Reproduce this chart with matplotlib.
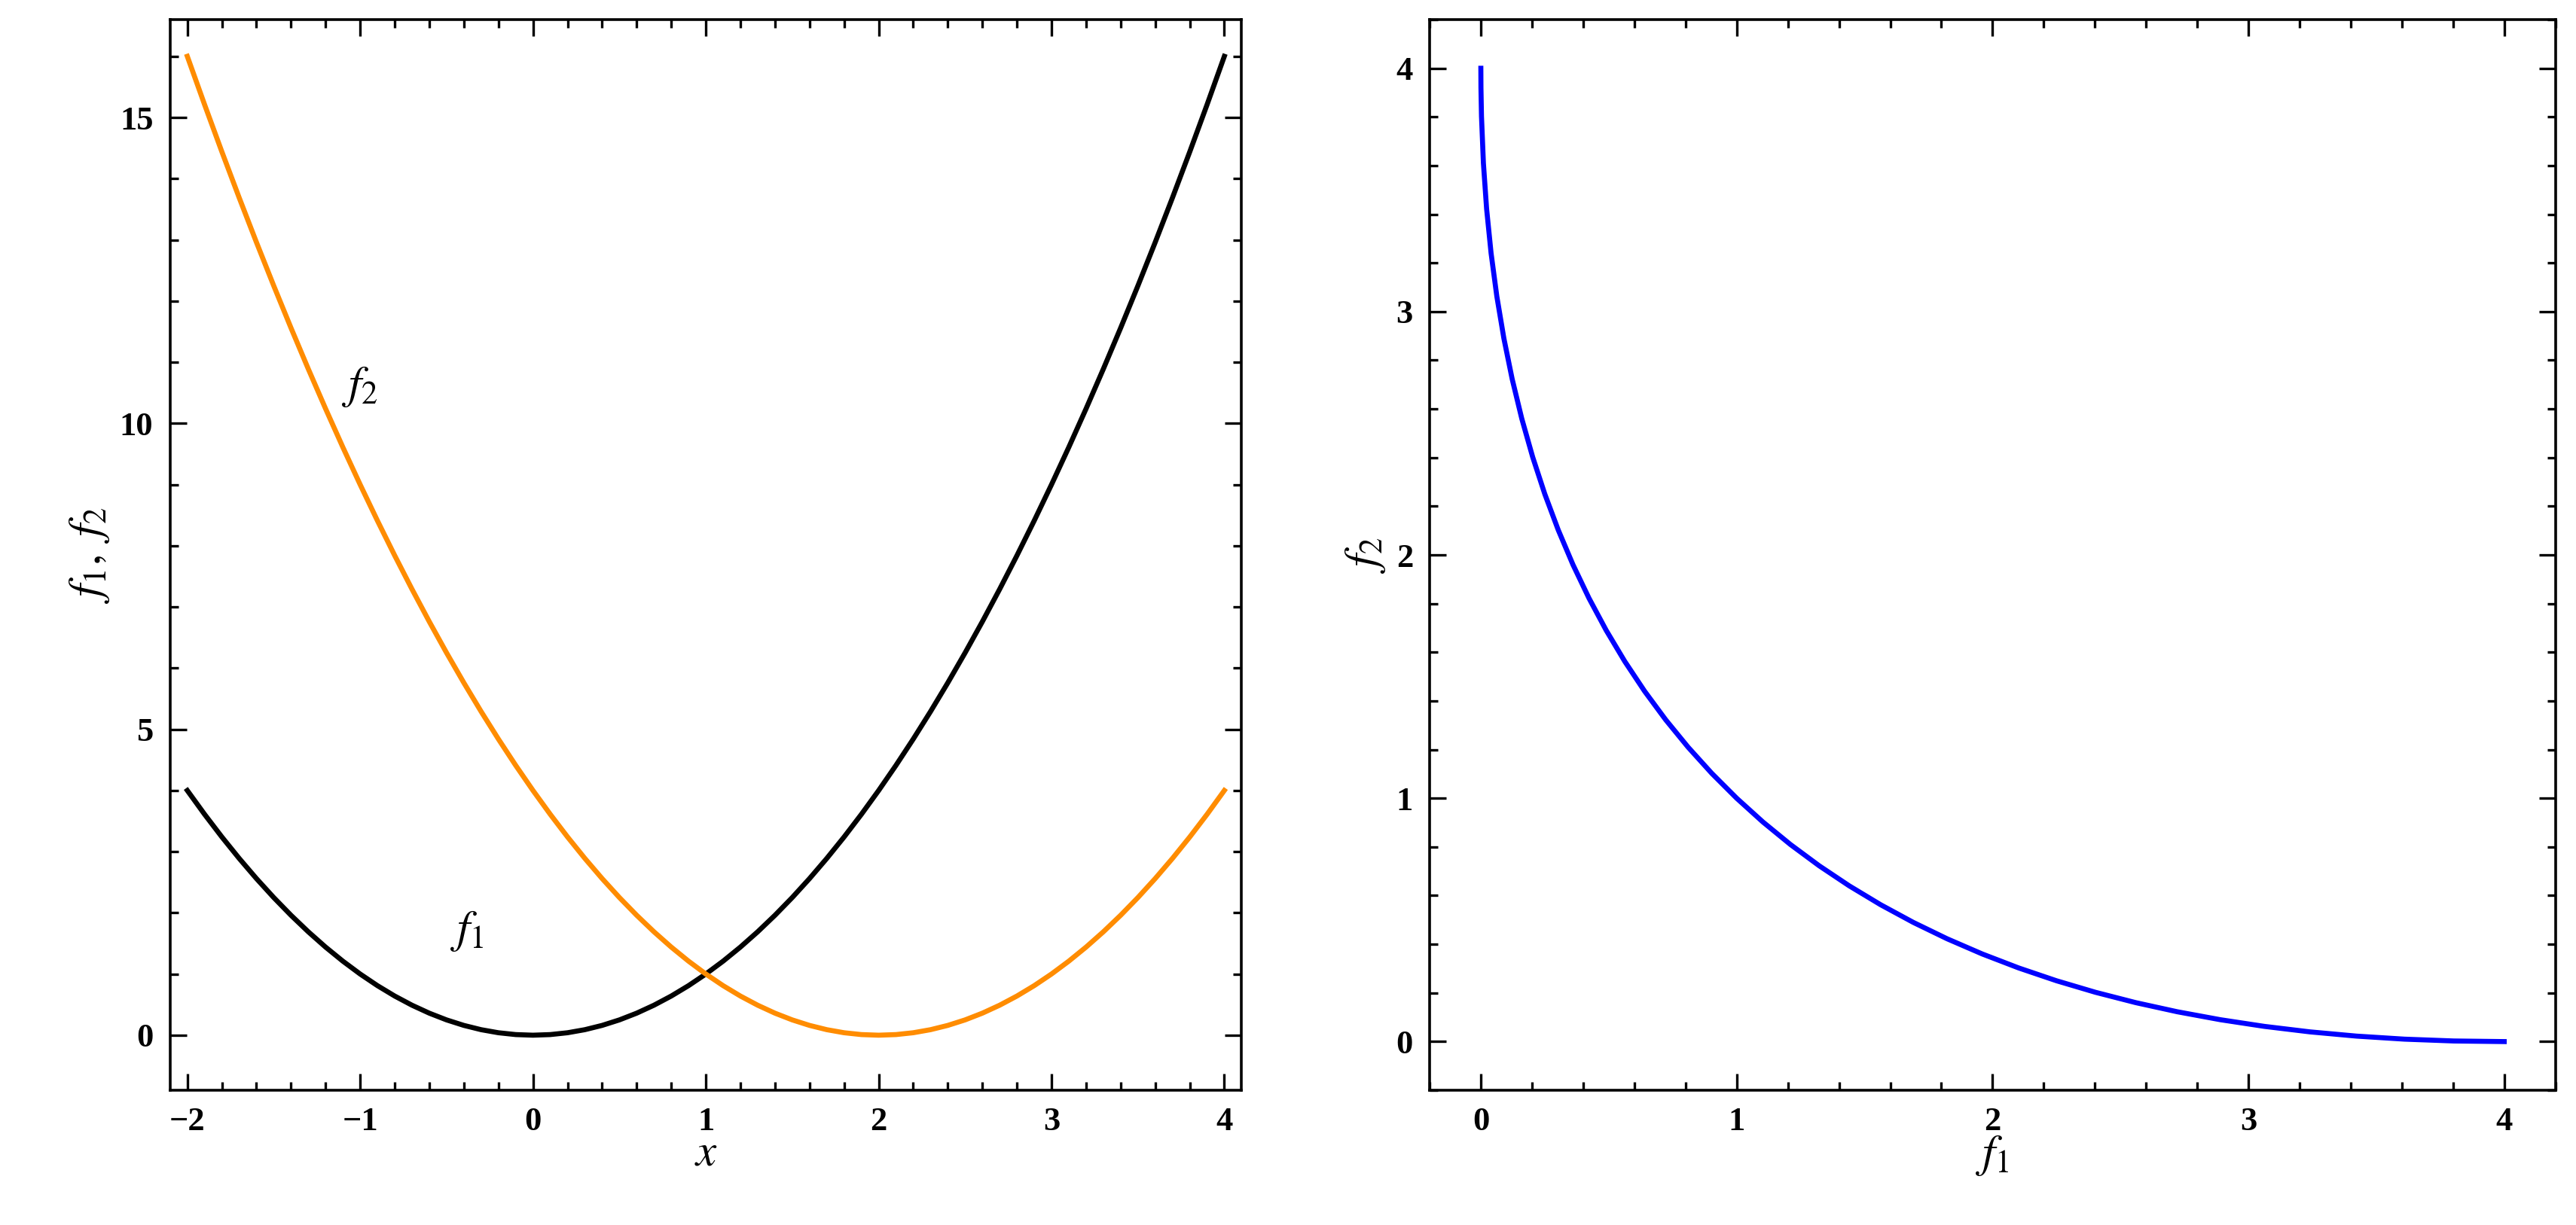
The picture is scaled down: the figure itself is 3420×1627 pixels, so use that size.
import matplotlib
matplotlib.use("Agg")
import matplotlib.pyplot as plt
from matplotlib.ticker import MultipleLocator

plt.rcParams['font.family'] = ['Liberation Serif', 'DejaVu Serif']
plt.rcParams['mathtext.fontset'] = 'stix'

x_vals = [-2.0, -1.9, -1.8, -1.7, -1.6, -1.5, -1.4, -1.3, -1.2, -1.1, -1.0, -0.9, -0.8, -0.7, -0.6,
          -0.5, -0.4, -0.3, -0.2, -0.1, 0.0, 0.1, 0.2, 0.3, 0.4, 0.5, 0.6, 0.7, 0.8, 0.9, 1.0,
          1.1, 1.2, 1.3, 1.4, 1.5, 1.6, 1.7, 1.8, 1.9, 2.0, 2.1, 2.2, 2.3, 2.4, 2.5, 2.6, 2.7, 2.8,
          2.9, 3.0, 3.1, 3.2, 3.3, 3.4, 3.5, 3.6, 3.7, 3.8, 3.9, 4.0]
f1_vals = [4.00, 3.61, 3.24, 2.89, 2.56, 2.25, 1.96, 1.69, 1.44, 1.21, 1.00, 0.81, 0.64, 0.49, 0.36,
           0.25, 0.16, 0.09, 0.04, 0.01, 0.00, 0.01, 0.04, 0.09, 0.16, 0.25, 0.36, 0.49, 0.64, 0.81, 1.00,
           1.21, 1.44, 1.69, 1.96, 2.25, 2.56, 2.89, 3.24, 3.61, 4.00, 4.41, 4.84, 5.29, 5.76, 6.25, 6.76,
           7.29, 7.84, 8.41, 9.00, 9.61, 10.24, 10.89, 11.56, 12.25, 12.96, 13.69, 14.44, 15.21, 16.00]
f2_vals = [16.00, 15.21, 14.44, 13.69, 12.96, 12.25, 11.56, 10.89, 10.24, 9.61, 9.00, 8.41, 7.84, 7.29,
           6.76, 6.25, 5.76, 5.29, 4.84, 4.41, 4.00, 3.61, 3.24, 2.89, 2.56, 2.25, 1.96, 1.69, 1.44, 1.21,
           1.00, 0.81, 0.64, 0.49, 0.36, 0.25, 0.16, 0.09, 0.04, 0.01, 0.00, 0.01, 0.04, 0.09, 0.16, 0.25,
           0.36, 0.49, 0.64, 0.81, 1.00, 1.21, 1.44, 1.69, 1.96, 2.25, 2.56, 2.89, 3.24, 3.61, 4.00]

front_f1 = [0.0, 0.0004, 0.0025, 0.01, 0.0225, 0.04, 0.0625, 0.09, 0.1225, 0.16, 0.2025, 0.25, 0.3025,
            0.36, 0.4225, 0.49, 0.5625, 0.64, 0.7225, 0.81, 0.9025, 1.0,
            1.1025, 1.21, 1.3225, 1.44, 1.5625, 1.69, 1.8225, 1.96, 2.1025, 2.25, 2.4025, 2.56, 2.7225,
            2.89, 3.0625, 3.24, 3.4225, 3.61, 3.8025, 4.0]
front_f2 = [4.0, 3.9204, 3.8025, 3.61, 3.4225, 3.24, 3.0625, 2.89, 2.7225, 2.56, 2.4025, 2.25, 2.1025,
            1.96, 1.8225, 1.69, 1.5625, 1.44, 1.3225, 1.21, 1.1025, 1.0,
            0.9025, 0.81, 0.7225, 0.64, 0.5625, 0.49, 0.4225, 0.36, 0.3025, 0.25, 0.2025, 0.16, 0.1225,
            0.09, 0.0625, 0.04, 0.0225, 0.01, 0.0025, 0.0]

fig = plt.figure(figsize=(17.1, 8.135), dpi=200)
ax1 = fig.add_axes([0.066, 0.11, 0.416, 0.874])
ax2 = fig.add_axes([0.555, 0.11, 0.437, 0.874])

ax1.plot(x_vals, f1_vals, color='black', lw=2.4)
ax1.plot(x_vals, f2_vals, color='#FF8C00', lw=2.4)
ax1.set_xlim(-2.1, 4.1)
ax1.set_ylim(-0.9, 16.6)
ax1.text(-1.0, 10.6, r'$f_2$', fontsize=22, ha='center', va='center')
ax1.text(-0.38, 1.7, r'$f_1$', fontsize=22, ha='center', va='center')
ax1.set_xlabel(r'$x$', fontsize=22, labelpad=-2)
ax1.set_ylabel(r'$f_1,\ f_2$', fontsize=22)
ax1.xaxis.set_major_locator(MultipleLocator(1))
ax1.xaxis.set_minor_locator(MultipleLocator(0.2))
ax1.yaxis.set_major_locator(MultipleLocator(5))
ax1.yaxis.set_minor_locator(MultipleLocator(1))

ax2.plot(front_f1, front_f2, color='#0000FF', lw=2.4)
ax2.set_xlim(-0.2, 4.2)
ax2.set_ylim(-0.2, 4.2)
ax2.set_xlabel(r'$f_1$', fontsize=22, labelpad=-2)
ax2.set_ylabel(r'$f_2$', fontsize=22)
ax2.xaxis.set_major_locator(MultipleLocator(1))
ax2.xaxis.set_minor_locator(MultipleLocator(0.2))
ax2.yaxis.set_major_locator(MultipleLocator(1))
ax2.yaxis.set_minor_locator(MultipleLocator(0.2))

for ax in (ax1, ax2):
    ax.tick_params(which='both', direction='in', top=True, right=True, width=1.2)
    ax.tick_params(which='major', length=8, labelsize=16, pad=8)
    ax.tick_params(which='minor', length=4)
    for lab in ax.get_xticklabels() + ax.get_yticklabels():
        lab.set_fontweight('bold')
    for s in ax.spines.values():
        s.set_linewidth(1.3)

fig.savefig('out.png', dpi=200)
